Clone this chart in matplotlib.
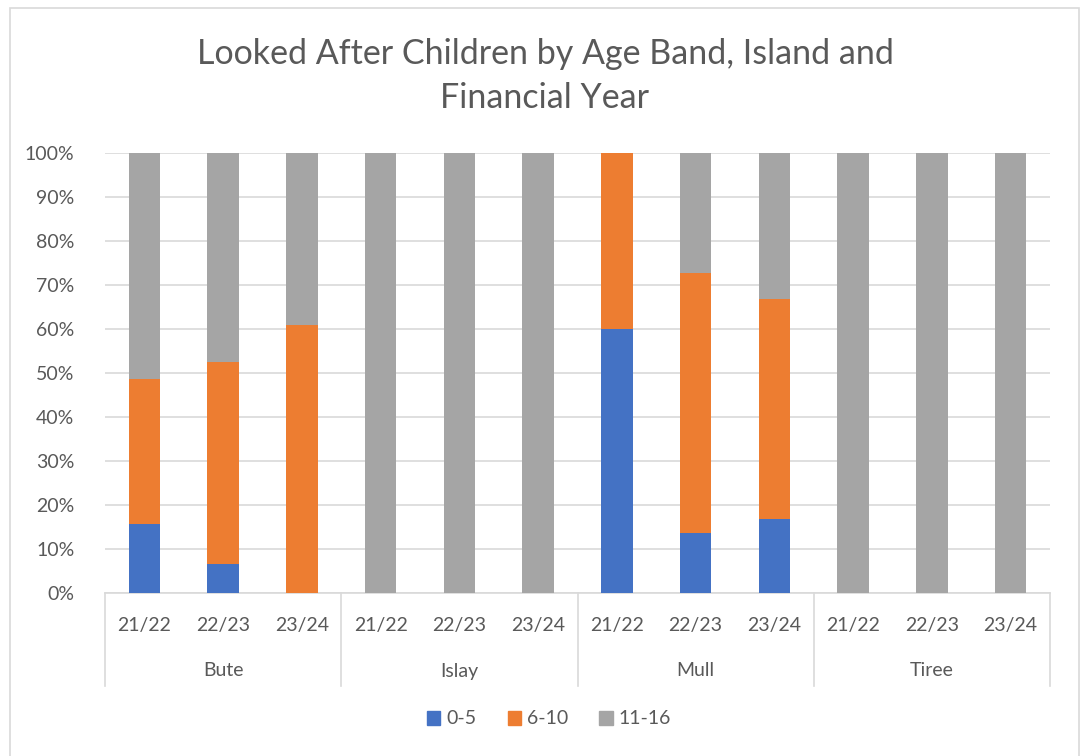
import matplotlib
matplotlib.use("Agg")
import matplotlib.pyplot as plt
from matplotlib.patches import Patch, Rectangle
from matplotlib.transforms import blended_transform_factory
from matplotlib.lines import Line2D

# Data: share of looked after children per age band (percent)
islands = ["Bute", "Islay", "Mull", "Tiree"]
years = ["21/22", "22/23", "23/24"]
age_bands = ["0-5", "6-10", "11-16"]

share_0_5 = [15.7, 6.5, 0.0,   0.0, 0.0, 0.0,   60.0, 13.6, 16.7,   0.0, 0.0, 0.0]
share_6_10 = [32.9, 46.0, 60.9,  0.0, 0.0, 0.0,   40.0, 59.1, 50.0,   0.0, 0.0, 0.0]
share_11_16 = [51.4, 47.5, 39.1,  100.0, 100.0, 100.0,   0.0, 27.3, 33.3,   100.0, 100.0, 100.0]

colors = ["#4472C4", "#ED7D31", "#A5A5A5"]
text_color = "#595959"
grid_color = "#D9D9D9"

plt.rcParams["font.family"] = ["Lato", "DejaVu Sans"]

W, H = 1085, 756
fig = plt.figure(figsize=(W / 100, H / 100), dpi=100)

# chart border
fig.patches.append(Rectangle((10 / W, -0.01), (1079 - 10) / W, 1 - 8 / H + 0.01,
                             transform=fig.transFigure, fill=False,
                             edgecolor="#D9D9D9", linewidth=1.2))

left, right, top, bottom = 105, 1050, 152.7, 592.7
ax = fig.add_axes([left / W, 1 - bottom / H, (right - left) / W, (bottom - top) / H])

x = list(range(len(islands) * len(years)))
bar_w = 0.4
base = [0.0] * len(x)
for vals, col, lab in zip([share_0_5, share_6_10, share_11_16], colors, age_bands):
    ax.bar(x, vals, bar_w, bottom=base, color=col, label=lab, zorder=3)
    base = [b + v for b, v in zip(base, vals)]

ax.set_xlim(-0.5, len(x) - 0.5)
ax.set_ylim(0, 100)
ax.set_yticks(range(0, 101, 10))
ax.set_yticklabels([f"{v}%" for v in range(0, 101, 10)], fontsize=14, color=text_color)
ax.tick_params(axis="y", length=0, pad=22)
ax.yaxis.grid(True, color=grid_color, linewidth=1.2, zorder=0)
ax.set_axisbelow(True)
for s in ["top", "right", "left"]:
    ax.spines[s].set_visible(False)
ax.spines["bottom"].set_color(grid_color)
ax.spines["bottom"].set_linewidth(1.2)

# two-level category axis
ax.set_xticks(x)
ax.set_xticklabels([])
ax.tick_params(axis="x", length=0)
trans = blended_transform_factory(ax.transData, ax.transAxes)
axh = bottom - top
for i, xi in enumerate(x):
    ax.text(xi, -(626 - bottom) / axh, years[i % len(years)], transform=trans,
            ha="center", va="center", fontsize=14, color=text_color)
for g, name in enumerate(islands):
    centre = g * len(years) + (len(years) - 1) / 2
    ax.text(centre, -(671 - bottom) / axh, name, transform=trans,
            ha="center", va="center", fontsize=14, color=text_color)
for g in range(len(islands) + 1):
    sx = g * len(years) - 0.5
    ax.add_line(Line2D([sx, sx], [0, -(686 - bottom) / axh], transform=trans,
                       color=grid_color, linewidth=1.2, clip_on=False))

fig.text(545 / W, 1 - 76 / H, "Looked After Children by Age Band, Island and\nFinancial Year",
         ha="center", va="center", fontsize=24.5, color=text_color, fontweight="normal",
         linespacing=1.45)

handles = [Patch(color=c, label=l) for c, l in zip(colors, age_bands)]
fig.legend(handles=handles, loc="center", bbox_to_anchor=(549 / W, 1 - 719 / H), ncol=3,
           frameon=False, fontsize=14, handlelength=0.7, handleheight=0.7,
           handletextpad=0.3, columnspacing=1.6, labelcolor=text_color)

fig.savefig("out.png", dpi=100)
